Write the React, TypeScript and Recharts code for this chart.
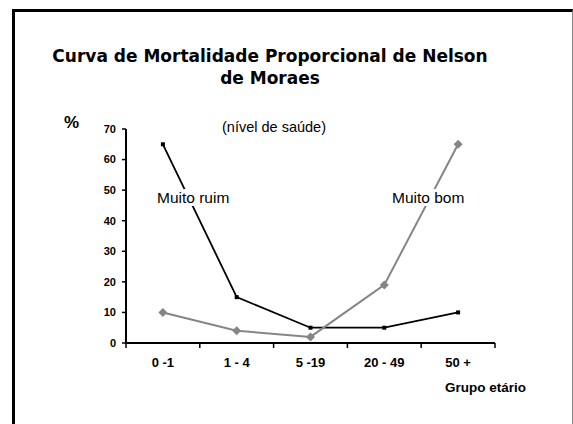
import { Line, LineChart, ReferenceLine, XAxis, YAxis } from 'recharts';

const AGE_GROUPS = ['0 -1', '1 - 4', '5 -19', '20 - 49', '50 +'];
const MUITO_RUIM = [65, 15, 5, 5, 10];
const MUITO_BOM = [10, 4, 2, 19, 65];
const Y_TICKS = [0, 10, 20, 30, 40, 50, 60, 70];

const DATA = AGE_GROUPS.map((g, i) => ({ grupo: g, ruim: MUITO_RUIM[i], bom: MUITO_BOM[i] }));

const ARIAL = '"Liberation Sans", Arial, sans-serif';
const TICK_GAP = 15;

const SquareDot = (props: any) => {
    const { cx, cy } = props;
    if (cx == null || cy == null) return null;
    return <rect x={cx - 2} y={cy - 2} width={4} height={4} fill="#000" />;
};

const DiamondDot = (props: any) => {
    const { cx, cy } = props;
    if (cx == null || cy == null) return null;
    return (
        <polygon
            points={`${cx},${cy - 4.5} ${cx + 4.5},${cy} ${cx},${cy + 4.5} ${cx - 4.5},${cy}`}
            fill="#858585"
        />
    );
};

// category label + tick marks at the band edges
const AgeTick = (props: any) => {
    const { x, y, payload, index, visibleTicksCount } = props;
    const half = payload?.offset ?? 0;
    const axisY = y - TICK_GAP;
    const last = index === visibleTicksCount - 1;
    return (
        <g>
            <line x1={x - half} x2={x - half} y1={axisY} y2={axisY + 5} stroke="#000" strokeWidth={1.5} />
            {last && <line x1={x + half} x2={x + half} y1={axisY} y2={axisY + 5} stroke="#000" strokeWidth={1.5} />}
            <text x={x} y={y} dy="0.71em" textAnchor="middle" fill="#000" fontSize={13} fontWeight="bold" fontFamily={ARIAL}>
                {payload.value}
            </text>
        </g>
    );
};

const note = (left: number, top: number, text: string, size: number) => (
    <div
        style={{
            position: 'absolute',
            left,
            top,
            fontFamily: ARIAL,
            fontSize: size,
            background: 'white',
            lineHeight: 1.1,
            whiteSpace: 'nowrap',
            color: '#000',
        }}
    >
        {text}
    </div>
);

export default function App() {
    return (
        <div style={{ position: 'fixed', left: 0, top: 0, width: 573, height: 424, background: '#fff', overflow: 'hidden' }}>
            <div
                style={{
                    position: 'absolute',
                    left: 12,
                    top: 9,
                    width: 557,
                    height: 440,
                    borderLeft: '3px solid #000',
                    borderTop: '3px solid #000',
                    borderRight: '1px solid #888',
                }}
            />
            <div
                style={{
                    position: 'absolute',
                    left: 20,
                    width: 500,
                    top: 45,
                    textAlign: 'center',
                    fontFamily: '"DejaVu Sans", Verdana, sans-serif',
                    fontWeight: 'bold',
                    fontSize: 17,
                    lineHeight: '22px',
                }}
            >
                Curva de Mortalidade Proporcional de Nelson
                <br />
                de Moraes
            </div>
            <div style={{ position: 'absolute', left: 0, top: 0 }}>
                <LineChart width={573} height={424} data={DATA} margin={{ top: 129, right: 78, bottom: 51, left: 86 }}>
                    <XAxis
                        dataKey="grupo"
                        scale="band"
                        axisLine={false}
                        tickLine={false}
                        tickSize={0}
                        tickMargin={TICK_GAP}
                        height={30}
                        interval={0}
                        tick={<AgeTick />}
                    />
                    <YAxis
                        domain={[0, 70]}
                        ticks={Y_TICKS}
                        width={40}
                        tickSize={4}
                        tickMargin={6}
                        axisLine={{ stroke: '#000', strokeWidth: 2 }}
                        tickLine={{ stroke: '#000', strokeWidth: 1.5 }}
                        tick={{ fill: '#000', fontSize: 11, fontWeight: 'bold', fontFamily: ARIAL }}
                    />
                    <ReferenceLine y={0} stroke="#000" strokeWidth={2} />
                    <Line
                        dataKey="ruim"
                        type="linear"
                        stroke="#000"
                        strokeWidth={1.8}
                        dot={<SquareDot />}
                        activeDot={false}
                        isAnimationActive={false}
                    />
                    <Line
                        dataKey="bom"
                        type="linear"
                        stroke="#858585"
                        strokeWidth={2}
                        dot={<DiamondDot />}
                        activeDot={false}
                        isAnimationActive={false}
                    />
                </LineChart>
            </div>
            {note(157, 189, 'Muito ruim', 15.5)}
            {note(392, 189, 'Muito bom', 15.5)}
            <div style={{ position: 'absolute', left: 222, top: 119, fontFamily: ARIAL, fontSize: 14.5, whiteSpace: 'nowrap' }}>
                (nível de saúde)
            </div>
            <div style={{ position: 'absolute', left: 64, top: 113, fontFamily: ARIAL, fontSize: 17, fontWeight: 'bold' }}>%</div>
            <div style={{ position: 'absolute', left: 445, top: 380, fontFamily: ARIAL, fontSize: 13.5, fontWeight: 'bold', whiteSpace: 'nowrap' }}>
                Grupo etário
            </div>
        </div>
    );
}
